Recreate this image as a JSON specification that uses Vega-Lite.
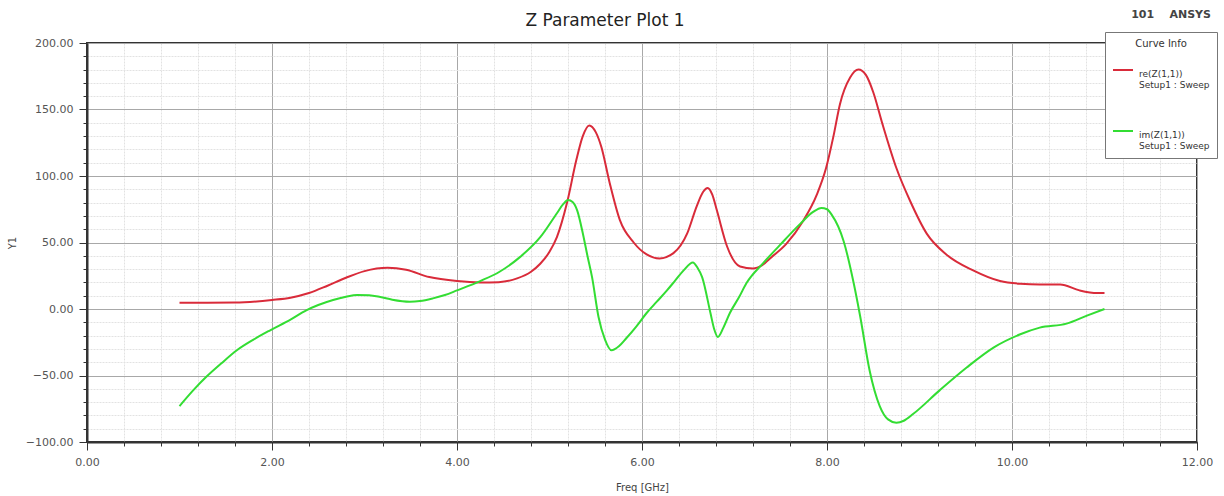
{
  "$schema": "https://vega.github.io/schema/vega-lite/v6.json",
  "width": 1110,
  "height": 399,
  "autosize": {"type": "none"},
  "padding": {"left": 87, "top": 43, "right": 27, "bottom": 54},
  "background": "white",
  "config": {
    "view": {"stroke": "#333333", "strokeWidth": 2},
    "font": "DejaVu Sans"
  },
  "title": {
    "text": "Z Parameter Plot 1",
    "font": "DejaVu Sans",
    "fontSize": 17,
    "fontWeight": "normal",
    "color": "#222222",
    "frame": "group",
    "anchor": "middle",
    "dx": -37,
    "baseline": "alphabetic",
    "offset": -34
  },
  "resolve": {"axis": {"x": "independent", "y": "independent"}},
  "layer": [
    {
      "data": {
        "values": [
          {"f": 1.0, "part": "re(Z(1,1))", "z": 4.7},
          {"f": 1.3, "part": "re(Z(1,1))", "z": 4.7},
          {"f": 1.6, "part": "re(Z(1,1))", "z": 4.8},
          {"f": 2.0, "part": "re(Z(1,1))", "z": 6.8},
          {"f": 2.2, "part": "re(Z(1,1))", "z": 8.5},
          {"f": 2.4, "part": "re(Z(1,1))", "z": 12},
          {"f": 2.6, "part": "re(Z(1,1))", "z": 17.5},
          {"f": 2.8, "part": "re(Z(1,1))", "z": 23.5},
          {"f": 3.0, "part": "re(Z(1,1))", "z": 28.5},
          {"f": 3.25, "part": "re(Z(1,1))", "z": 31},
          {"f": 3.45, "part": "re(Z(1,1))", "z": 29.5},
          {"f": 3.7, "part": "re(Z(1,1))", "z": 24},
          {"f": 4.0, "part": "re(Z(1,1))", "z": 21},
          {"f": 4.25, "part": "re(Z(1,1))", "z": 20},
          {"f": 4.45, "part": "re(Z(1,1))", "z": 20.2},
          {"f": 4.65, "part": "re(Z(1,1))", "z": 23},
          {"f": 4.8, "part": "re(Z(1,1))", "z": 28},
          {"f": 4.9, "part": "re(Z(1,1))", "z": 34},
          {"f": 5.0, "part": "re(Z(1,1))", "z": 43},
          {"f": 5.08, "part": "re(Z(1,1))", "z": 54},
          {"f": 5.19, "part": "re(Z(1,1))", "z": 80},
          {"f": 5.29, "part": "re(Z(1,1))", "z": 112},
          {"f": 5.36, "part": "re(Z(1,1))", "z": 130},
          {"f": 5.43, "part": "re(Z(1,1))", "z": 138},
          {"f": 5.5, "part": "re(Z(1,1))", "z": 133},
          {"f": 5.56, "part": "re(Z(1,1))", "z": 122},
          {"f": 5.65, "part": "re(Z(1,1))", "z": 95},
          {"f": 5.76, "part": "re(Z(1,1))", "z": 67},
          {"f": 5.91, "part": "re(Z(1,1))", "z": 50},
          {"f": 6.05, "part": "re(Z(1,1))", "z": 41},
          {"f": 6.19, "part": "re(Z(1,1))", "z": 38},
          {"f": 6.34, "part": "re(Z(1,1))", "z": 42},
          {"f": 6.49, "part": "re(Z(1,1))", "z": 57},
          {"f": 6.59, "part": "re(Z(1,1))", "z": 77},
          {"f": 6.66, "part": "re(Z(1,1))", "z": 88},
          {"f": 6.71, "part": "re(Z(1,1))", "z": 91},
          {"f": 6.76, "part": "re(Z(1,1))", "z": 86},
          {"f": 6.81, "part": "re(Z(1,1))", "z": 74},
          {"f": 6.92, "part": "re(Z(1,1))", "z": 47},
          {"f": 7.06, "part": "re(Z(1,1))", "z": 32},
          {"f": 7.2, "part": "re(Z(1,1))", "z": 30.5},
          {"f": 7.3, "part": "re(Z(1,1))", "z": 33},
          {"f": 7.4, "part": "re(Z(1,1))", "z": 39},
          {"f": 7.56, "part": "re(Z(1,1))", "z": 49},
          {"f": 7.74, "part": "re(Z(1,1))", "z": 66},
          {"f": 7.89, "part": "re(Z(1,1))", "z": 86},
          {"f": 7.99, "part": "re(Z(1,1))", "z": 106},
          {"f": 8.07, "part": "re(Z(1,1))", "z": 130},
          {"f": 8.14, "part": "re(Z(1,1))", "z": 154},
          {"f": 8.25, "part": "re(Z(1,1))", "z": 174},
          {"f": 8.34, "part": "re(Z(1,1))", "z": 180},
          {"f": 8.42, "part": "re(Z(1,1))", "z": 176},
          {"f": 8.5, "part": "re(Z(1,1))", "z": 163},
          {"f": 8.6, "part": "re(Z(1,1))", "z": 139},
          {"f": 8.75, "part": "re(Z(1,1))", "z": 106},
          {"f": 8.9, "part": "re(Z(1,1))", "z": 81},
          {"f": 9.08, "part": "re(Z(1,1))", "z": 56.5},
          {"f": 9.29, "part": "re(Z(1,1))", "z": 41},
          {"f": 9.58, "part": "re(Z(1,1))", "z": 29},
          {"f": 9.87, "part": "re(Z(1,1))", "z": 21},
          {"f": 10.09, "part": "re(Z(1,1))", "z": 19},
          {"f": 10.3, "part": "re(Z(1,1))", "z": 18.5},
          {"f": 10.52, "part": "re(Z(1,1))", "z": 18.5},
          {"f": 10.73, "part": "re(Z(1,1))", "z": 14},
          {"f": 10.92, "part": "re(Z(1,1))", "z": 12},
          {"f": 11.0, "part": "re(Z(1,1))", "z": 12},
          {"f": 1.0, "part": "im(Z(1,1))", "z": -73},
          {"f": 1.15, "part": "im(Z(1,1))", "z": -61},
          {"f": 1.29, "part": "im(Z(1,1))", "z": -51},
          {"f": 1.45, "part": "im(Z(1,1))", "z": -41},
          {"f": 1.62, "part": "im(Z(1,1))", "z": -31},
          {"f": 1.8, "part": "im(Z(1,1))", "z": -23},
          {"f": 1.98, "part": "im(Z(1,1))", "z": -16},
          {"f": 2.2, "part": "im(Z(1,1))", "z": -8},
          {"f": 2.37, "part": "im(Z(1,1))", "z": -1},
          {"f": 2.5, "part": "im(Z(1,1))", "z": 3},
          {"f": 2.66, "part": "im(Z(1,1))", "z": 6.8},
          {"f": 2.8, "part": "im(Z(1,1))", "z": 9.2},
          {"f": 2.92, "part": "im(Z(1,1))", "z": 10.5},
          {"f": 3.05, "part": "im(Z(1,1))", "z": 10.3},
          {"f": 3.17, "part": "im(Z(1,1))", "z": 9},
          {"f": 3.3, "part": "im(Z(1,1))", "z": 7},
          {"f": 3.49, "part": "im(Z(1,1))", "z": 5.5},
          {"f": 3.6, "part": "im(Z(1,1))", "z": 6},
          {"f": 3.74, "part": "im(Z(1,1))", "z": 8},
          {"f": 3.87, "part": "im(Z(1,1))", "z": 10.5},
          {"f": 4.0, "part": "im(Z(1,1))", "z": 14},
          {"f": 4.25, "part": "im(Z(1,1))", "z": 21},
          {"f": 4.46, "part": "im(Z(1,1))", "z": 28},
          {"f": 4.68, "part": "im(Z(1,1))", "z": 39},
          {"f": 4.9, "part": "im(Z(1,1))", "z": 54},
          {"f": 5.08, "part": "im(Z(1,1))", "z": 72},
          {"f": 5.15, "part": "im(Z(1,1))", "z": 79},
          {"f": 5.2, "part": "im(Z(1,1))", "z": 82},
          {"f": 5.25, "part": "im(Z(1,1))", "z": 80.5},
          {"f": 5.3, "part": "im(Z(1,1))", "z": 74},
          {"f": 5.36, "part": "im(Z(1,1))", "z": 57},
          {"f": 5.41, "part": "im(Z(1,1))", "z": 40},
          {"f": 5.46, "part": "im(Z(1,1))", "z": 24},
          {"f": 5.53, "part": "im(Z(1,1))", "z": -6},
          {"f": 5.6, "part": "im(Z(1,1))", "z": -23},
          {"f": 5.67, "part": "im(Z(1,1))", "z": -31},
          {"f": 5.75, "part": "im(Z(1,1))", "z": -28},
          {"f": 5.83, "part": "im(Z(1,1))", "z": -22},
          {"f": 5.94, "part": "im(Z(1,1))", "z": -13},
          {"f": 6.05, "part": "im(Z(1,1))", "z": -3},
          {"f": 6.16, "part": "im(Z(1,1))", "z": 5.5},
          {"f": 6.27, "part": "im(Z(1,1))", "z": 14},
          {"f": 6.36, "part": "im(Z(1,1))", "z": 21.5},
          {"f": 6.45, "part": "im(Z(1,1))", "z": 29},
          {"f": 6.55, "part": "im(Z(1,1))", "z": 35},
          {"f": 6.6, "part": "im(Z(1,1))", "z": 31},
          {"f": 6.65, "part": "im(Z(1,1))", "z": 24},
          {"f": 6.74, "part": "im(Z(1,1))", "z": -3},
          {"f": 6.78, "part": "im(Z(1,1))", "z": -15},
          {"f": 6.82, "part": "im(Z(1,1))", "z": -21},
          {"f": 6.88, "part": "im(Z(1,1))", "z": -14},
          {"f": 6.95, "part": "im(Z(1,1))", "z": -3},
          {"f": 7.05, "part": "im(Z(1,1))", "z": 9},
          {"f": 7.13, "part": "im(Z(1,1))", "z": 19.5},
          {"f": 7.31, "part": "im(Z(1,1))", "z": 34.5},
          {"f": 7.49, "part": "im(Z(1,1))", "z": 48},
          {"f": 7.71, "part": "im(Z(1,1))", "z": 64},
          {"f": 7.85, "part": "im(Z(1,1))", "z": 73},
          {"f": 7.94, "part": "im(Z(1,1))", "z": 76},
          {"f": 8.0, "part": "im(Z(1,1))", "z": 75},
          {"f": 8.05, "part": "im(Z(1,1))", "z": 71},
          {"f": 8.18, "part": "im(Z(1,1))", "z": 51},
          {"f": 8.29, "part": "im(Z(1,1))", "z": 19},
          {"f": 8.36, "part": "im(Z(1,1))", "z": -6},
          {"f": 8.46, "part": "im(Z(1,1))", "z": -46},
          {"f": 8.57, "part": "im(Z(1,1))", "z": -73},
          {"f": 8.66, "part": "im(Z(1,1))", "z": -83},
          {"f": 8.75, "part": "im(Z(1,1))", "z": -85.5},
          {"f": 8.83, "part": "im(Z(1,1))", "z": -84},
          {"f": 8.93, "part": "im(Z(1,1))", "z": -79},
          {"f": 9.22, "part": "im(Z(1,1))", "z": -61},
          {"f": 9.51, "part": "im(Z(1,1))", "z": -44},
          {"f": 9.8, "part": "im(Z(1,1))", "z": -29},
          {"f": 10.09, "part": "im(Z(1,1))", "z": -19},
          {"f": 10.3, "part": "im(Z(1,1))", "z": -14},
          {"f": 10.59, "part": "im(Z(1,1))", "z": -11},
          {"f": 10.81, "part": "im(Z(1,1))", "z": -5},
          {"f": 11.0, "part": "im(Z(1,1))", "z": 0}
        ]
      },
      "mark": {"type": "line", "strokeWidth": 2, "interpolate": "monotone"},
      "encoding": {
        "x": {
          "field": "f",
          "type": "quantitative",
          "scale": {"domain": [0, 12], "nice": false, "zero": false},
          "axis": {
            "title": "Freq [GHz]",
            "titleFont": "DejaVu Sans",
            "titleFontSize": 10,
            "titleFontWeight": "normal",
            "titleColor": "#444444",
            "titleBaseline": "alphabetic",
            "titleY": 48.5,
            "values": [0, 0.4, 0.8, 1.2, 1.6, 2, 2.4, 2.8, 3.2, 3.6, 4, 4.4, 4.8, 5.2, 5.6, 6, 6.4, 6.8, 7.2, 7.6, 8, 8.4, 8.8, 9.2, 9.6, 10, 10.4, 10.8, 11.2, 11.6, 12],
            "labelExpr": "abs(datum.value/2 - round(datum.value/2)) < 0.01 ? format(datum.value, '.2f') : ''",
            "labelFont": "DejaVu Sans",
            "labelFontSize": 11,
            "labelColor": "#555555",
            "labelPadding": 6,
            "labelFlush": false,
            "labelOverlap": false,
            "tickColor": "#333333",
            "tickSize": {"condition": {"test": "abs(datum.value/2 - round(datum.value/2)) < 0.01", "value": 8}, "value": 4},
            "domainColor": "#333333",
            "domainWidth": 2,
            "grid": true,
            "gridColor": {"condition": {"test": "abs(datum.value/2 - round(datum.value/2)) < 0.01", "value": "#a8a8a8"}, "value": "#e2e2e2"},
            "gridDash": {"condition": {"test": "abs(datum.value/2 - round(datum.value/2)) < 0.01", "value": []}, "value": [2, 1]}
          }
        },
        "y": {
          "field": "z",
          "type": "quantitative",
          "scale": {"domain": [-100, 200], "nice": false, "zero": false},
          "axis": {
            "title": "Y1",
            "titleFont": "DejaVu Sans",
            "titleFontSize": 10,
            "titleFontWeight": "normal",
            "titleColor": "#444444",
            "titleX": -75,
            "titleY": 199.5,
            "titleBaseline": "middle",
            "titleAlign": "center",
            "values": [-100, -90, -80, -70, -60, -50, -40, -30, -20, -10, 0, 10, 20, 30, 40, 50, 60, 70, 80, 90, 100, 110, 120, 130, 140, 150, 160, 170, 180, 190, 200],
            "labelExpr": "datum.value % 50 === 0 ? format(datum.value, '.2f') : ''",
            "labelFont": "DejaVu Sans",
            "labelFontSize": 11,
            "labelColor": "#555555",
            "labelPadding": 6,
            "labelFlush": false,
            "labelOverlap": false,
            "tickColor": "#333333",
            "tickSize": {"condition": {"test": "datum.value % 50 === 0", "value": 8}, "value": 4},
            "domainColor": "#333333",
            "domainWidth": 2,
            "grid": true,
            "gridColor": {"condition": {"test": "datum.value % 50 === 0", "value": "#a8a8a8"}, "value": "#e2e2e2"},
            "gridDash": {"condition": {"test": "datum.value % 50 === 0", "value": []}, "value": [2, 1]}
          }
        },
        "color": {
          "field": "part",
          "type": "nominal",
          "scale": {"domain": ["re(Z(1,1))", "im(Z(1,1))"], "range": ["#d92b3a", "#33dd33"]},
          "legend": {
            "orient": "none",
            "legendX": 1018,
            "legendY": -11,
            "title": "Curve Info",
            "titleAnchor": "middle",
            "titleFont": "DejaVu Sans",
            "titleFontSize": 10,
            "titleFontWeight": "normal",
            "titleColor": "#333333",
            "titleBaseline": "top",
            "titlePadding": 10,
            "padding": 7,
            "fillColor": "white",
            "strokeColor": "#777777",
            "labelExpr": "[datum.label, 'Setup1 : Sweep']",
            "labelFont": "DejaVu Sans",
            "labelFontSize": 9,
            "labelColor": "#333333",
            "labelOffset": 5,
            "labelBaseline": "top",
            "symbolType": "stroke",
            "symbolSize": 400,
            "symbolStrokeWidth": 2,
            "rowPadding": 30
          }
        }
      }
    },
    {
      "data": {"values": [{"note": "101\u00a0\u00a0\u00a0\u00a0ANSYS"}]},
      "mark": {"type": "text", "font": "DejaVu Sans", "fontSize": 11, "fontWeight": "bold", "color": "#444444", "align": "center", "baseline": "middle"},
      "encoding": {
        "x": {"datum": 11.72, "type": "quantitative", "axis": null},
        "y": {"datum": 220.7, "type": "quantitative", "axis": null},
        "text": {"field": "note", "type": "nominal"}
      }
    }
  ]
}
